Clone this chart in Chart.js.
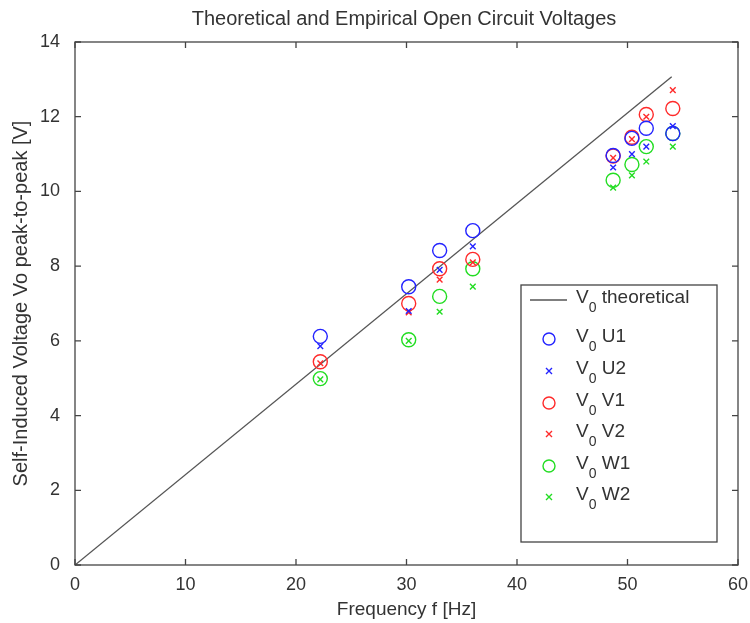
<!DOCTYPE html>
<html>
<head>
<meta charset="utf-8">
<script src="https://cdn.jsdelivr.net/npm/chart.js@4"></script>
<style>
  body { margin: 0; background: #fff; }
  #wrap { width: 750px; height: 623px; }
</style>
</head>
<body>
<div id="wrap"><canvas id="chart" width="750" height="623"></canvas></div>
<script>
// data
const freqs = [22.2, 30.2, 33.0, 36.0, 48.7, 50.4, 51.7, 54.1];
const u1 = [6.12, 7.45, 8.42, 8.95, 10.96, 11.42, 11.69, 11.55];
const u2 = [5.86, 6.80, 7.90, 8.53, 10.64, 11.00, 11.20, 11.75];
const v1 = [5.44, 7.00, 7.93, 8.18, 10.95, 11.45, 12.06, 12.22];
const v2 = [5.40, 6.76, 7.64, 8.10, 10.90, 11.40, 12.00, 12.71];
const w1 = [4.99, 6.03, 7.19, 7.93, 10.30, 10.72, 11.20, 11.55];
const w2 = [4.97, 6.00, 6.78, 7.45, 10.10, 10.43, 10.80, 11.20];
const theoryX = [0, 54.0];
const theoryY = [0, 13.07];
const xTicks = [0, 10, 20, 30, 40, 50, 60];
const yTicks = [0, 2, 4, 6, 8, 10, 12, 14];

const FONT = '"Liberation Sans", Arial, sans-serif';
const TXT = '#333';

const pts = (ys) => freqs.map((f, i) => ({ x: f, y: ys[i] }));

const series = [
  { label: 'U1', data: u1, color: '#2323ff', style: 'circle' },
  { label: 'U2', data: u2, color: '#2323ff', style: 'crossRot' },
  { label: 'V1', data: v1, color: '#ff2a2a', style: 'circle' },
  { label: 'V2', data: v2, color: '#ff2a2a', style: 'crossRot' },
  { label: 'W1', data: w1, color: '#22dd22', style: 'circle' },
  { label: 'W2', data: w2, color: '#22dd22', style: 'crossRot' },
];

const datasets = [
  {
    label: 'theoretical',
    data: theoryX.map((x, i) => ({ x, y: theoryY[i] })),
    showLine: true,
    borderColor: '#555',
    borderWidth: 1.3,
    pointRadius: 0,
    order: 10,
  },
];
series.forEach((s) => {
  datasets.push({
    label: s.label,
    data: pts(s.data),
    pointStyle: s.style,
    pointRadius: s.style === 'circle' ? 7 : 4,
    pointBorderWidth: 1.4,
    borderColor: s.color,
    backgroundColor: 'transparent',
    showLine: false,
  });
});

// inward ticks + frame, matlab style
const framePlugin = {
  id: 'frame',
  afterDraw(chart) {
    const { ctx, chartArea: a, scales } = chart;
    ctx.save();
    ctx.strokeStyle = '#444';
    ctx.lineWidth = 1.3;
    ctx.strokeRect(a.left, a.top, a.right - a.left, a.bottom - a.top);
    ctx.beginPath();
    xTicks.forEach((t) => {
      const px = scales.x.getPixelForValue(t);
      ctx.moveTo(px, a.bottom); ctx.lineTo(px, a.bottom - 6);
      ctx.moveTo(px, a.top); ctx.lineTo(px, a.top + 6);
    });
    yTicks.forEach((t) => {
      const py = scales.y.getPixelForValue(t);
      ctx.moveTo(a.left, py); ctx.lineTo(a.left + 6, py);
      ctx.moveTo(a.right, py); ctx.lineTo(a.right - 6, py);
    });
    ctx.stroke();

    // title
    ctx.fillStyle = TXT;
    ctx.font = '20px ' + FONT;
    ctx.textAlign = 'center';
    ctx.textBaseline = 'middle';
    ctx.fillText('Theoretical and Empirical Open Circuit Voltages', 404, 19);
    ctx.restore();
  },
};

// legend box with subscript V0
const legendPlugin = {
  id: 'subLegend',
  afterDatasetsDraw(chart) {
    const { ctx } = chart;
    const bx = 521, by = 285, bw = 196, bh = 257;
    ctx.save();
    ctx.fillStyle = '#fff';
    ctx.fillRect(bx, by, bw, bh);
    ctx.strokeStyle = '#444';
    ctx.lineWidth = 1.3;
    ctx.strokeRect(bx, by, bw, bh);

    const rows = [{ label: 'theoretical', line: true }].concat(series);
    const rowY = [300, 339, 371, 403, 434, 466, 497];
    rows.forEach((r, i) => {
      const y = rowY[i];
      ctx.strokeStyle = r.line ? '#555' : r.color;
      ctx.lineWidth = r.line ? 1.3 : 1.4;
      ctx.beginPath();
      if (r.line) {
        ctx.moveTo(530, y); ctx.lineTo(567, y);
      } else if (r.style === 'circle') {
        ctx.arc(549, y, 6, 0, Math.PI * 2);
      } else {
        ctx.moveTo(546, y - 3); ctx.lineTo(552, y + 3);
        ctx.moveTo(552, y - 3); ctx.lineTo(546, y + 3);
      }
      ctx.stroke();

      ctx.fillStyle = TXT;
      ctx.textAlign = 'left';
      ctx.textBaseline = 'middle';
      ctx.font = '19px ' + FONT;
      ctx.fillText('V', 576, y - 2);
      const vw = ctx.measureText('V').width;
      ctx.font = '14px ' + FONT;
      ctx.fillText('0', 576 + vw, y + 8);
      const zw = ctx.measureText('0').width;
      ctx.font = '19px ' + FONT;
      ctx.fillText(' ' + r.label, 576 + vw + zw, y - 2);
    });
    ctx.restore();
  },
};

new Chart(document.getElementById('chart'), {
  type: 'scatter',
  data: { datasets },
  options: {
    responsive: false,
    animation: false,
    layout: { padding: { top: 42, right: 12, left: 0, bottom: 0 } },
    plugins: { legend: { display: false }, tooltip: { enabled: false } },
    scales: {
      x: {
        type: 'linear',
        min: 0,
        max: 60,
        afterBuildTicks: (s) => { s.ticks = xTicks.map((v) => ({ value: v })); },
        afterFit: (s) => { s.height = 58; },
        grid: { display: false },
        border: { display: false },
        ticks: { color: TXT, font: { family: FONT, size: 18 }, padding: 1 },
        title: {
          display: true,
          text: 'Frequency f [Hz]',
          color: TXT,
          font: { family: FONT, size: 19 },
          padding: { top: 0, bottom: 2 },
        },
      },
      y: {
        type: 'linear',
        min: 0,
        max: 14,
        afterBuildTicks: (s) => { s.ticks = yTicks.map((v) => ({ value: v })); },
        afterFit: (s) => { s.width = 75; },
        grid: { display: false },
        border: { display: false },
        ticks: { color: TXT, font: { family: FONT, size: 18 }, padding: 7 },
        title: {
          display: true,
          text: 'Self-Induced Voltage Vo peak-to-peak [V]',
          color: TXT,
          font: { family: FONT, size: 20 },
          padding: { top: 9, bottom: 0 },
        },
      },
    },
  },
  plugins: [framePlugin, legendPlugin],
});
</script>
</body>
</html>
